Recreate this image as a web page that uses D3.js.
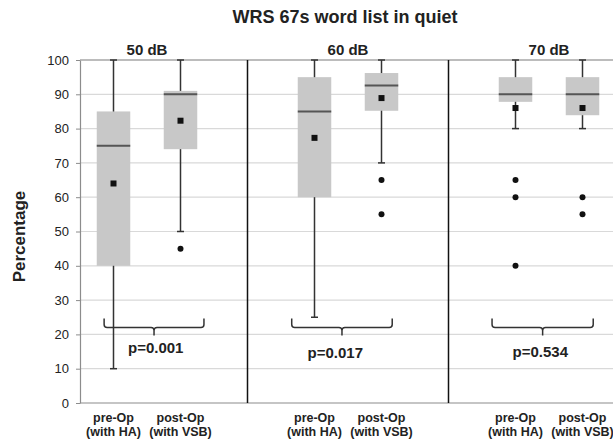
<!DOCTYPE html>
<html>
<head>
<meta charset="utf-8">
<script src="https://cdn.jsdelivr.net/npm/d3@7"></script>
<style>
    body { margin: 0; background: #fff; }
    svg { display: block; font-family: "Liberation Sans", Arial, sans-serif; }
</style>
</head>
<body>
<svg id="chart" width="613" height="443"></svg>
<script>
// ============================================================================
// WRS 67s word list in quiet - box plots, pre-Op vs post-Op per level
// ============================================================================

const groups = ["50 dB", "60 dB", "70 dB"];
const conditionLabels = [["pre-Op", "(with HA)"], ["post-Op", "(with VSB)"]];

// one entry per box: [50 pre, 50 post, 60 pre, 60 post, 70 pre, 70 post]
const whiskerLow  = [10, 50, 25, 70, 80, 80];
const q1          = [40, 74, 60, 85.2, 87.8, 83.9];
const medians     = [75, 90, 85, 92.6, 90, 90];
const q3          = [85, 91, 95, 96.2, 95, 95];
const whiskerHigh = [100, 100, 100, 100, 100, 100];
const means       = [64, 82.3, 77.3, 88.9, 86, 86];
const outliers    = [[], [45], [], [65, 55], [65, 60, 40], [60, 55]];

const pValues = ["p=0.001", "p=0.017", "p=0.534"];
const yTicks = d3.range(0, 101, 10);

// bracket positions in slot units (slot = category index on the x axis)
const bracketStart = [-0.14, 2.66, 5.65];
const bracketEnd   = [1.35, 4.16, 7.16];
const pLabelSlot   = [0.63, 3.31, 6.37];
const pLabelValue  = [14.6, 13.1, 13.4];

const svg = d3.select("#chart");
const margin = { top: 60, left: 80 };
const slotWidth = 67;
const slotCount = 9;
const plotBottom = 403;

const slots = d3.range(slotCount);
const x = d3.scaleBand()
    .domain(slots)
    .range([margin.left, margin.left + slotWidth * slotCount])
    .padding(0);
const xs = d3.scaleLinear()
    .domain([-0.5, slotCount - 0.5])
    .range([margin.left, margin.left + slotWidth * slotCount]);
const y = d3.scaleLinear()
    .domain([0, 100])
    .range([plotBottom, margin.top]);

const slotOf = i => Math.floor(i / 2) * 3 + (i % 2);
const cx = i => x(slotOf(i)) + x.bandwidth() / 2;
const boxW = x.bandwidth() * 0.5;

// Gridlines
svg.append("g")
    .selectAll("line")
    .data(yTicks.filter(d => d > 0))
    .enter()
    .append("line")
    .attr("x1", margin.left)
    .attr("x2", 613)
    .attr("y1", d => y(d))
    .attr("y2", d => y(d))
    .attr("stroke", "#d9d9d9")
    .attr("stroke-width", 1.2);

// Top border
svg.append("line")
    .attr("x1", margin.left).attr("x2", 613)
    .attr("y1", y(100)).attr("y2", y(100))
    .attr("stroke", "#8c8c8c")
    .attr("stroke-width", 1.2);

// Y axis
const yAxis = svg.append("g")
    .attr("transform", `translate(${margin.left},0)`)
    .call(d3.axisLeft(y).tickValues(yTicks).tickSize(4).tickSizeOuter(0));
yAxis.select(".domain").attr("stroke", "#8c8c8c").attr("stroke-width", 1.2);
yAxis.selectAll(".tick line").attr("stroke", "#8c8c8c");
yAxis.selectAll("text")
    .attr("x", -11)
    .style("font-family", "'Liberation Sans', Arial, sans-serif")
    .style("font-size", "13px")
    .style("fill", "#222");

// Bottom axis line
svg.append("line")
    .attr("x1", margin.left).attr("x2", 613)
    .attr("y1", plotBottom).attr("y2", plotBottom)
    .attr("stroke", "#8c8c8c")
    .attr("stroke-width", 1.2);

// Group dividers
svg.append("g")
    .selectAll("line")
    .data(groups)
    .enter()
    .append("line")
    .attr("x1", (d, g) => x(g * 3 + 2) + x.bandwidth() / 2)
    .attr("x2", (d, g) => x(g * 3 + 2) + x.bandwidth() / 2)
    .attr("y1", y(100))
    .attr("y2", plotBottom)
    .attr("stroke", "#111")
    .attr("stroke-width", 1.5);

// Boxes
const boxes = svg.append("g")
    .selectAll("g")
    .data(medians)
    .enter()
    .append("g");

boxes.append("line")
    .attr("x1", (d, i) => cx(i)).attr("x2", (d, i) => cx(i))
    .attr("y1", (d, i) => y(whiskerHigh[i]))
    .attr("y2", (d, i) => y(whiskerLow[i]))
    .attr("stroke", "#333")
    .attr("stroke-width", 1.5);

[whiskerHigh, whiskerLow].forEach(arr => {
    boxes.append("line")
        .attr("x1", (d, i) => cx(i) - 3.5).attr("x2", (d, i) => cx(i) + 3.5)
        .attr("y1", (d, i) => y(arr[i])).attr("y2", (d, i) => y(arr[i]))
        .attr("stroke", "#333")
        .attr("stroke-width", 1.5);
});

boxes.append("rect")
    .attr("x", (d, i) => cx(i) - boxW / 2)
    .attr("y", (d, i) => y(q3[i]))
    .attr("width", boxW)
    .attr("height", (d, i) => y(q1[i]) - y(q3[i]))
    .attr("fill", "#c8c8c8");

boxes.append("line")
    .attr("x1", (d, i) => cx(i) - boxW / 2).attr("x2", (d, i) => cx(i) + boxW / 2)
    .attr("y1", d => y(d)).attr("y2", d => y(d))
    .attr("stroke", "#555")
    .attr("stroke-width", 2);

boxes.append("rect")
    .attr("x", (d, i) => cx(i) - 3)
    .attr("y", (d, i) => y(means[i]) - 3)
    .attr("width", 6)
    .attr("height", 6)
    .attr("fill", "#111");

boxes.selectAll("circle")
    .data((d, i) => outliers[i].map(v => ({ v, i })))
    .enter()
    .append("circle")
    .attr("cx", d => cx(d.i))
    .attr("cy", d => y(d.v))
    .attr("r", 3)
    .attr("fill", "#111");

// Significance brackets
const bracketY = y(22);
groups.forEach((g, k) => {
    const x0 = xs(bracketStart[k]);
    const x1 = xs(bracketEnd[k]);
    const xm = (x0 + x1) / 2;
    const r = 3;
    const path = d3.path();
    path.moveTo(x0, bracketY - 9);
    path.lineTo(x0, bracketY - r);
    path.quadraticCurveTo(x0, bracketY, x0 + r, bracketY);
    path.lineTo(xm - r, bracketY);
    path.quadraticCurveTo(xm, bracketY, xm, bracketY + r);
    path.lineTo(xm, bracketY + 8);
    path.moveTo(xm, bracketY + r);
    path.quadraticCurveTo(xm, bracketY, xm + r, bracketY);
    path.lineTo(x1 - r, bracketY);
    path.quadraticCurveTo(x1, bracketY, x1, bracketY - r);
    path.lineTo(x1, bracketY - 9);
    svg.append("path")
        .attr("d", path.toString())
        .attr("fill", "none")
        .attr("stroke", "#333")
        .attr("stroke-width", 1.5);

    svg.append("text")
        .attr("x", xs(pLabelSlot[k]))
        .attr("y", y(pLabelValue[k]))
        .attr("text-anchor", "middle")
        .style("font-size", "15px")
        .style("font-weight", "bold")
        .style("fill", "#222")
        .text(pValues[k]);

    // Group label
    svg.append("text")
        .attr("x", (cx(k * 2) + cx(k * 2 + 1)) / 2)
        .attr("y", 55)
        .attr("text-anchor", "middle")
        .style("font-size", "15px")
        .style("font-weight", "bold")
        .style("fill", "#222")
        .text(g);
});

// Condition labels under each box
medians.forEach((d, i) => {
    const t = svg.append("text")
        .attr("text-anchor", "middle")
        .style("font-size", "12.5px")
        .style("font-weight", "bold")
        .style("fill", "#222");
    conditionLabels[i % 2].forEach((line, j) => {
        t.append("tspan")
            .attr("x", cx(i))
            .attr("y", 421.5 + j * 14.5)
            .text(line);
    });
});

// Title
svg.append("text")
    .attr("x", 345)
    .attr("y", 23)
    .attr("text-anchor", "middle")
    .style("font-size", "18px")
    .style("font-weight", "bold")
    .style("fill", "#222")
    .text("WRS 67s word list in quiet");

// Y label
svg.append("text")
    .attr("transform", "translate(25,236.5) rotate(-90)")
    .attr("text-anchor", "middle")
    .style("font-size", "17px")
    .style("font-weight", "bold")
    .style("fill", "#222")
    .text("Percentage");
</script>
</body>
</html>
